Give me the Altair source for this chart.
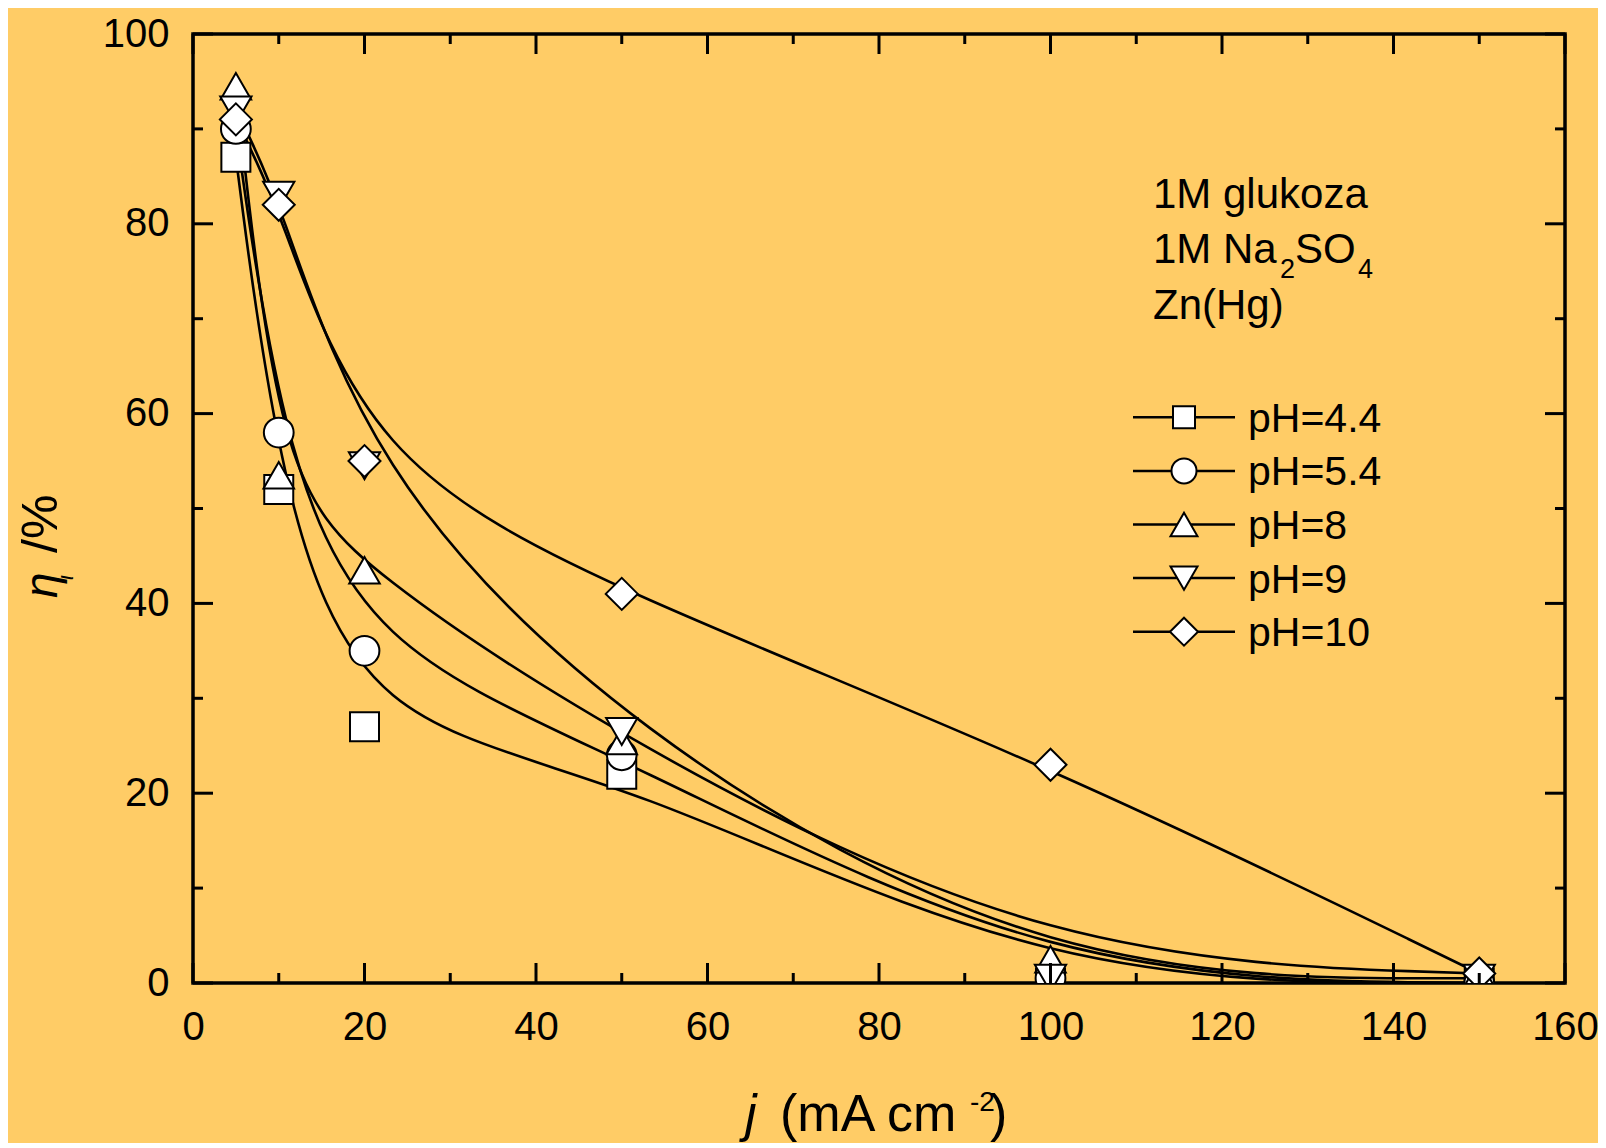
import altair as alt
import pandas as pd

# ---- data ----
x_j = [5, 10, 20, 50, 100, 150]
series_names = ["pH=4.4", "pH=5.4", "pH=8", "pH=9", "pH=10"]
eta_ph44 = [87, 52, 27, 22, 0, 0]
eta_ph54 = [90, 58, 35, 24, 0.5, 0]
eta_ph8 = [94.5, 53.5, 43.5, 25.5, 2.5, 1]
eta_ph9 = [92, 83, 54.5, 26.5, 0.5, 0.5]
eta_ph10 = [91, 82, 55, 41, 23, 1]

x_ticks_major = [0, 20, 40, 60, 80, 100, 120, 140, 160]
x_ticks_minor = [10, 30, 50, 70, 90, 110, 130, 150]
y_ticks_major = [0, 20, 40, 60, 80, 100]
y_ticks_minor = [10, 30, 50, 70, 90]

info_lines = ["1M glukoza", "Zn(Hg)"]

# ---- table ----
rows = []
for name, vals in zip(series_names, [eta_ph44, eta_ph54, eta_ph8, eta_ph9, eta_ph10]):
    for xv, yv in zip(x_j, vals):
        rows.append({"series": name, "j": xv, "eta": yv})
df = pd.DataFrame(rows)

W, H = 1372, 949
BG = "#FFCC66"
FONT = "Liberation Sans"

xscale = alt.Scale(domain=[0, 160], nice=False, zero=False)
yscale = alt.Scale(domain=[0, 100], nice=False, zero=False)
shapes = ["square", "circle", "triangle-up", "triangle-down", "diamond"]
plot_sizes = [841, 1024, 1296, 1296, 1521]
legend_sizes = [484, 625, 729, 729, 784]
shape_scale = alt.Scale(domain=series_names, range=shapes)
size_scale = alt.Scale(domain=series_names, range=plot_sizes)

x_axis = alt.Axis(values=x_ticks_major, format="d", ticks=False, domain=False, grid=False,
                  labelFontSize=40, labelFont=FONT, labelColor="black", labelPadding=24,
                  labelFlush=False, labelOverlap=False, title=None)
y_axis = alt.Axis(values=y_ticks_major, format="d", ticks=False, domain=False, grid=False,
                  labelFontSize=40, labelFont=FONT, labelColor="black", labelPadding=24,
                  labelFlush=False, labelOverlap=False, title=None)

base = alt.Chart(df)
lines = base.mark_line(interpolate="basis", color="black", strokeWidth=2.6, clip=True).encode(
    x=alt.X("j:Q", scale=xscale, axis=x_axis),
    y=alt.Y("eta:Q", scale=yscale, axis=y_axis),
    detail="series:N",
)
points = base.mark_point(filled=True, fill="white", stroke="black", strokeWidth=2,
                         opacity=1, fillOpacity=1, strokeOpacity=1, clip=True).encode(
    x=alt.X("j:Q", scale=xscale, axis=x_axis),
    y=alt.Y("eta:Q", scale=yscale, axis=y_axis),
    shape=alt.Shape("series:N", scale=shape_scale, legend=None),
    size=alt.Size("series:N", scale=size_scale, legend=None),
)

layers = [lines, points]

# ---- inward ticks on all four sides ----
def ticks(vals, side, length):
    c = alt.Chart(pd.DataFrame({"v": vals})).mark_rule(color="black", strokeWidth=3)
    if side == "left":
        return c.encode(y=alt.Y("v:Q", scale=yscale, axis=y_axis), x=alt.value(0), x2=alt.value(length))
    if side == "right":
        return c.encode(y=alt.Y("v:Q", scale=yscale, axis=y_axis), x=alt.value(W), x2=alt.value(W - length))
    if side == "bottom":
        return c.encode(x=alt.X("v:Q", scale=xscale, axis=x_axis), y=alt.value(H), y2=alt.value(H - length))
    return c.encode(x=alt.X("v:Q", scale=xscale, axis=x_axis), y=alt.value(0), y2=alt.value(length))

for side in ["left", "right"]:
    layers.append(ticks(y_ticks_major, side, 20))
    layers.append(ticks(y_ticks_minor, side, 10))
for side in ["bottom", "top"]:
    layers.append(ticks(x_ticks_major, side, 20))
    layers.append(ticks(x_ticks_minor, side, 10))

one = pd.DataFrame({"a": [0]})

def txt(s, x, y, size, italic=False, angle=None, align="left"):
    kw = dict(text=s, align=align, baseline="alphabetic", font=FONT, fontSize=size, color="black")
    if italic:
        kw["fontStyle"] = "italic"
    if angle is not None:
        kw["angle"] = angle
    return alt.Chart(one).mark_text(**kw).encode(x=alt.value(x), y=alt.value(y))

# ---- axis titles ----
layers += [
    txt("j", 552, 1097, 52, italic=True),
    txt("(mA cm", 587, 1097, 52),
    txt("-2", 777, 1077, 28),
    txt(")", 797, 1097, 52),
    txt("η", -136, 564, 46, italic=True, angle=270),
    txt("ι", -120, 546, 22, italic=True, angle=270),
    txt("/%", -136, 519, 50, angle=270),
]

# ---- annotation text ----
layers += [
    txt(info_lines[0], 960, 174, 42),
    txt("1M Na", 960, 229, 42),
    txt("2", 1087, 244, 27),
    txt("SO", 1102, 229, 42),
    txt("4", 1165, 244, 27),
    txt(info_lines[1], 960, 285, 42),
]

# ---- legend ----
for i, name in enumerate(series_names):
    ry = 383.3 + 53.6 * i
    layers.append(alt.Chart(one).mark_rule(color="black", strokeWidth=2.5).encode(
        x=alt.value(940), x2=alt.value(1042), y=alt.value(ry)))
    layers.append(alt.Chart(one).mark_point(shape=shapes[i], size=legend_sizes[i], filled=True,
                                            fill="white", stroke="black", strokeWidth=2, opacity=1).encode(
        x=alt.value(991), y=alt.value(ry)))
    layers.append(txt(name, 1055, ry + 14.5, 41))

chart = alt.layer(*layers).properties(
    width=W, height=H,
    background=BG,
    padding={"left": 185, "top": 26, "right": 33, "bottom": 160},
    autosize=alt.AutoSizeParams(type="none"),
).configure_view(stroke="black", strokeWidth=3.5, fill=BG)

chart.save("out.html", embed_options={"renderer": "svg", "actions": False})
